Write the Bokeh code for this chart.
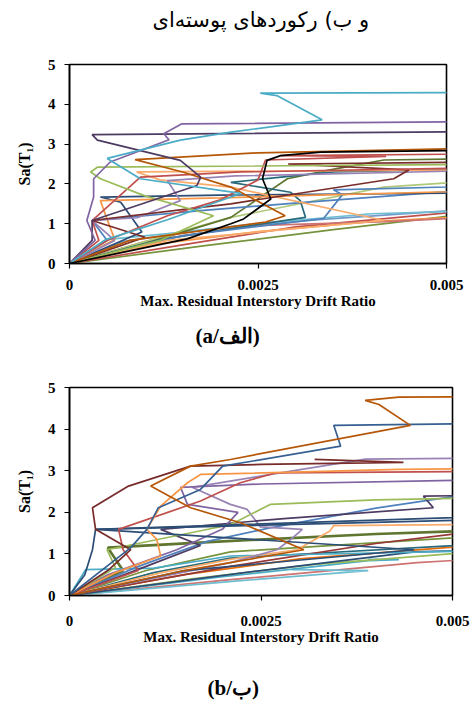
from bokeh.plotting import figure
from bokeh.models import Range1d, FixedTicker, Title
from bokeh.layouts import column
from bokeh.embed import file_html
from bokeh.resources import INLINE

# ---------------- data ----------------
# x values: max. residual interstory drift ratio, in units of 1e-3
# y values: Sa(T1)
TITLE_TEXT = "و ب) رکوردهای پوسته‌ای"
LABEL_A = "(a/الف)"
LABEL_B = "(b/ب)"
X_LABEL = "Max. Residual Interstory Drift Ratio"
Y_LABEL = "Sa(T₁)"
X_TICKS = [0, 0.0025, 0.005]
X_TICK_LABELS = ["0", "0.0025", "0.005"]
Y_TICKS = [0, 1, 2, 3, 4, 5]

# ---- panel (a) ----
a01_x = [0, 0.48, 1.3, 2.27, 0.94, 0.5, 1.47, 2.14, 3.35, 2.75, 2.53, 6]
a01_y = [0, 0.6, 1.1, 1.76, 2.13, 2.64, 3.1, 3.3, 3.61, 4.22, 4.28, 4.3]
a02_x = [0, 0.34, 0.23, 0.32, 0.32, 0.54, 1.32, 1.25, 1.49, 6]
a02_y = [0, 0.58, 1.08, 1.67, 2.13, 2.55, 3.11, 3.26, 3.51, 3.57]
a03_x = [0, 0.3, 0.3, 1.69, 1.74, 1.47, 0.37, 0.30, 6]
a03_y = [0, 0.58, 1.08, 1.96, 2.17, 2.59, 3.1, 3.24, 3.32]
a04_x = [0, 0.8, 2.6, 2.86, 2.14, 1.5, 0.87, 2.5, 6]
a04_y = [0, 0.58, 1.04, 1.2, 1.92, 2.3, 2.61, 2.78, 2.92]
a05_x = [0, 1.56, 2.14, 2.31, 2.67, 2.56, 2.62, 2.8, 3.33, 6]
a05_y = [0, 0.62, 1.0, 1.12, 1.62, 2.13, 2.59, 2.71, 2.8, 2.86]
a06_x = [0, 1.2, 1.91, 1.0, 0.41, 0.28, 0.37, 6]
a06_y = [0, 0.58, 1.2, 1.7, 2.13, 2.3, 2.42, 2.5]
a07_x = [0, 0.39, 0.3, 0.94, 2.27, 6]
a07_y = [0, 0.58, 1.08, 2.17, 2.3, 2.42]
a08_x = [0, 1.0, 0.3, 1.74, 2.14, 4.3, 4.5, 2.9, 6]
a08_y = [0, 0.66, 1.08, 1.41, 1.5, 2.13, 2.35, 2.5, 2.56]
a09_x = [0, 0.6, 0.48, 0.41, 2.0, 3.3, 6]
a09_y = [0, 0.6, 1.21, 1.58, 1.65, 1.72, 1.85]
a10_x = [0, 1.3, 4.17, 2.14, 1.2, 0.89, 6]
a10_y = [0, 0.58, 1.08, 1.92, 2.1, 2.3, 2.36]
a11_x = [0, 1.5, 3.37, 3.62, 3.5, 6]
a11_y = [0, 0.7, 1.13, 1.73, 1.85, 1.97]
a12_x = [0, 1.2, 3.13, 3.06, 2.93, 2.14, 3.5, 6]
a12_y = [0, 0.6, 1.16, 1.58, 1.79, 2.04, 2.3, 2.4]
a13_x = [0, 0.96, 0.68, 0.41, 2.0, 6]
a13_y = [0, 0.79, 1.54, 1.67, 1.72, 1.78]
a14_x = [0, 0.6, 0.3, 0.9, 1.47, 1.3, 2.2, 6]
a14_y = [0, 0.58, 1.08, 1.15, 1.58, 2.08, 2.2, 2.36]
a15_x = [0, 0.48, 1.3, 2.5, 4.0, 6]
a15_y = [0, 0.6, 0.75, 1.0, 1.25, 1.36]
a16_x = [0, 1.8, 3.5, 6]
a16_y = [0, 0.45, 0.85, 1.4]
a17_x = [0, 1.6, 3.0, 6]
a17_y = [0, 0.5, 0.92, 1.45]
a18_x = [0, 1.2, 2.5, 4.0, 6]
a18_y = [0, 0.5, 0.8, 1.05, 1.25]
a19_x = [0, 0.7, 1.8, 3.3, 6]
a19_y = [0, 0.55, 0.85, 1.1, 1.45]
a20_x = [0, 1.0, 2.14, 2.89, 3.42, 4.17, 6]
a20_y = [0, 0.5, 1.16, 2.13, 2.34, 2.6, 2.65]
a21_x = [0, 1.0, 2.14, 4.17, 6]
a21_y = [0, 0.55, 1.16, 1.92, 2.15]
a22_x = [0, 0.5, 1.3, 2.0, 2.5, 2.6, 4.2, 2.8, 6]
a22_y = [0, 0.58, 1.2, 1.6, 2.1, 2.6, 2.69, 2.71, 2.76]
a23_x = [0, 0.5, 0.3, 1.74, 3.2, 6]
a23_y = [0, 0.58, 1.08, 1.33, 1.55, 1.95]
a24_x = [0, 1.0, 2.4, 4.2, 6]
a24_y = [0, 0.55, 0.95, 1.05, 1.22]

# ---- panel (b) ----
b01_x = [0, 1.5, 3.06, 2.23, 1.58, 1.06, 1.58, 2.1, 4.45, 4.04, 3.86, 4.3, 6]
b01_y = [0, 0.6, 1.1, 1.75, 2.11, 2.63, 3.11, 3.27, 4.09, 4.59, 4.69, 4.77, 4.78]
b02_x = [0, 0.8, 1.01, 1.16, 1.71, 2.0, 3.54, 3.45, 6]
b02_y = [0, 1.15, 1.59, 2.11, 2.55, 3.11, 3.59, 4.09, 4.15]
b03_x = [0, 0.5, 0.8, 0.34, 0.30, 0.77, 1.58, 2.5, 4.36, 3.2]
b03_y = [0, 0.6, 1.1, 1.59, 2.11, 2.63, 3.11, 3.15, 3.2, 3.27]
b04_x = [0, 0.6, 1.19, 1.14, 1.01, 1.19, 1.54, 1.71, 4.3, 6]
b04_y = [0, 0.55, 0.95, 1.35, 1.59, 2.15, 2.71, 2.91, 3.03, 3.06]
b05_x = [0, 0.9, 0.7, 0.64, 1.71, 2.23, 2.7, 6]
b05_y = [0, 0.6, 1.1, 1.59, 2.27, 2.71, 2.95, 2.99]
b06_x = [0, 0.2, 0.3, 0.34, 6]
b06_y = [0, 0.5, 1.1, 1.59, 1.93]
b07_x = [0, 1.5, 4.5, 0.34, 6]
b07_y = [0, 0.6, 1.1, 1.59, 1.85]
b08_x = [0, 0.6, 0.49, 2.1, 2.62, 4.0, 6]
b08_y = [0, 0.67, 1.1, 1.7, 2.19, 2.3, 2.37]
b09_x = [0, 0.7, 0.5, 2.0, 4.0, 6]
b09_y = [0, 0.6, 1.15, 1.3, 1.48, 1.6]
b10_x = [0, 0.21, 1.1, 2.1, 6]
b10_y = [0, 0.62, 0.66, 0.95, 1.1]
b11_x = [0, 0.5, 1.4, 2.0, 2.2, 1.54, 1.45, 2.5, 6]
b11_y = [0, 0.5, 1.1, 1.6, 2.0, 2.19, 2.6, 2.68, 2.8]
b12_x = [0, 1.0, 1.71, 1.19, 2.8, 4.75, 4.62, 6]
b12_y = [0, 0.7, 1.2, 1.59, 1.85, 2.11, 2.39, 2.42]
b13_x = [0, 2.1, 2.71, 2.89, 3.04, 2.49, 2.32, 2.1, 1.6, 3.86, 6]
b13_y = [0, 0.79, 1.1, 1.35, 1.59, 1.65, 2.07, 2.19, 2.6, 3.28, 3.31]
b14_x = [0, 1.2, 2.1, 2.97, 3.4, 3.45, 6]
b14_y = [0, 0.55, 0.87, 1.1, 1.55, 1.68, 1.72]
b15_x = [0, 2.1, 4.0, 6]
b15_y = [0, 0.7, 1.25, 1.7]
b16_x = [0, 0.9, 1.8, 2.6, 4.0, 6]
b16_y = [0, 0.7, 1.3, 1.62, 2.1, 2.65]
b17_x = [0, 1.0, 2.1, 6]
b17_y = [0, 0.6, 1.05, 1.5]
b18_x = [0, 1.1, 2.1, 6]
b18_y = [0, 0.55, 0.9, 1.3]
b19_x = [0, 2.2, 3.9, 2.9]
b19_y = [0, 0.35, 0.6, 0.62]
b20_x = [0, 2.0, 3.9, 4.3, 3.9]
b20_y = [0, 0.45, 0.84, 0.86, 0.87]
b21_x = [0, 2.1, 4.54, 6]
b21_y = [0, 0.38, 0.79, 0.95]
b22_x = [0, 2.5, 4.5, 6]
b22_y = [0, 0.6, 1.05, 1.12]
b23_x = [0, 1.5, 3.0, 6]
b23_y = [0, 0.5, 0.88, 1.3]
b24_x = [0, 1.6, 3.2, 6]
b24_y = [0, 0.4, 0.75, 1.15]

# ---------------- styles ----------------
LW = 1.7
A_SERIES = [
    (a16_x, a16_y, "#77933C", LW), (a17_x, a17_y, "#C0504D", LW), (a18_x, a18_y, "#F79646", LW),
    (a19_x, a19_y, "#729ACA", LW), (a24_x, a24_y, "#CD7371", LW), (a15_x, a15_y, "#6FBDD1", LW),
    (a21_x, a21_y, "#AFC97A", LW), (a20_x, a20_y, "#5F7530", LW), (a23_x, a23_y, "#4F81BD", LW),
    (a13_x, a13_y, "#2C4D75", LW), (a12_x, a12_y, "#276A7C", LW), (a11_x, a11_y, "#4F81BD", LW),
    (a10_x, a10_y, "#F9AB6B", LW), (a09_x, a09_y, "#F79646", LW), (a14_x, a14_y, "#9983B5", LW),
    (a08_x, a08_y, "#772C2A", LW), (a22_x, a22_y, "#C0504D", LW), (a07_x, a07_y, "#C0504D", LW),
    (a06_x, a06_y, "#9BBB59", LW), (a04_x, a04_y, "#B65708", LW), (a03_x, a03_y, "#4D3B62", LW),
    (a02_x, a02_y, "#8064A2", LW), (a01_x, a01_y, "#4BACC6", LW), (a05_x, a05_y, "#000000", LW),
]
B_SERIES = [
    (b21_x, b21_y, "#CD7371", LW), (b19_x, b19_y, "#6FBDD1", LW), (b20_x, b20_y, "#4BACC6", LW),
    (b24_x, b24_y, "#9BBB59", LW), (b23_x, b23_y, "#E46C0A", LW), (b22_x, b22_y, "#2C4D75", LW),
    (b18_x, b18_y, "#276A7C", LW), (b17_x, b17_y, "#77933C", LW), (b09_x, b09_y, "#5F7530", 2.6),
    (b15_x, b15_y, "#953735", LW), (b10_x, b10_y, "#4BACC6", LW), (b14_x, b14_y, "#F9AB6B", LW),
    (b16_x, b16_y, "#4F81BD", LW), (b13_x, b13_y, "#9983B5", LW), (b12_x, b12_y, "#4D3B62", LW),
    (b11_x, b11_y, "#8064A2", LW), (b08_x, b08_y, "#9BBB59", LW), (b07_x, b07_y, "#2C4D75", LW),
    (b06_x, b06_y, "#2C4D75", LW), (b05_x, b05_y, "#C0504D", LW), (b04_x, b04_y, "#F79646", LW),
    (b03_x, b03_y, "#772C2A", LW), (b02_x, b02_y, "#376092", LW), (b01_x, b01_y, "#B65708", LW),
]

SERIF = "Liberation Serif"


def make_panel(series, frame_w, frame_h, top, right, tick_standoff):
    p = figure(frame_width=frame_w, frame_height=frame_h,
               min_border_left=69, min_border_right=right,
               min_border_top=top, min_border_bottom=0,
               x_range=Range1d(0, 0.005), y_range=Range1d(0, 5),
               output_backend="svg", toolbar_location=None)
    p.background_fill_color = "white"
    p.border_fill_color = "white"
    p.outline_line_color = "black"
    p.outline_line_width = 1.6
    p.grid.visible = False

    for xs, ys, c, w in series:
        p.line([v * 1e-3 for v in xs], ys, line_color=c, line_width=w)

    p.xaxis.ticker = FixedTicker(ticks=X_TICKS)
    p.xaxis.major_label_overrides = {t: s for t, s in zip(X_TICKS, X_TICK_LABELS)}
    p.yaxis.ticker = FixedTicker(ticks=Y_TICKS)
    for ax in (p.xaxis[0], p.yaxis[0]):
        ax.axis_line_color = "black"
        ax.axis_line_width = 1.6
        ax.major_tick_line_color = "black"
        ax.major_tick_line_width = 1.2
        ax.major_tick_in = 0
        ax.major_tick_out = 5
        ax.minor_tick_line_color = None
        ax.major_label_text_font = SERIF
        ax.major_label_text_font_style = "bold"
        ax.major_label_text_font_size = "15px"
        ax.major_label_text_color = "black"
        ax.axis_label_text_font = SERIF
        ax.axis_label_text_font_style = "bold"
        ax.axis_label_text_font_size = "15px"
        ax.axis_label_text_color = "black"
    p.xaxis.axis_label = X_LABEL
    p.xaxis.major_label_standoff = tick_standoff
    p.xaxis.axis_label_standoff = 0
    p.yaxis.axis_label = Y_LABEL
    p.yaxis.major_label_standoff = 9
    p.yaxis.axis_label_standoff = 12
    p.yaxis.axis_label_text_font_size = "16px"
    return p


def spacer(p, side, gap):
    # an empty title used only as vertical padding
    p.add_layout(Title(text=" ", text_font_size="1px", standoff=gap), side)


def text_panel(p, side, text, font, size, style, offset, standoff):
    p.add_layout(Title(text=text, align="left", offset=offset, vertical_align="middle",
                       text_font=font, text_font_size=size, text_font_style=style,
                       text_color="black", standoff=standoff), side)


pa = make_panel(A_SERIES, 377, 199, 0, 26, 11)
spacer(pa, "above", 22)
text_panel(pa, "above", TITLE_TEXT, "DejaVu Sans", "21px", "normal", 83, 13)
spacer(pa, "below", 8)
text_panel(pa, "below", LABEL_A, SERIF, "21px", "bold", 126, 0)

pb = make_panel(B_SERIES, 383, 208, 39, 20, 15)
spacer(pb, "below", 24)
text_panel(pb, "below", LABEL_B, SERIF, "21px", "bold", 138, 0)

layout = column(pa, pb)
open("out.html", "w").write(file_html(layout, INLINE))
